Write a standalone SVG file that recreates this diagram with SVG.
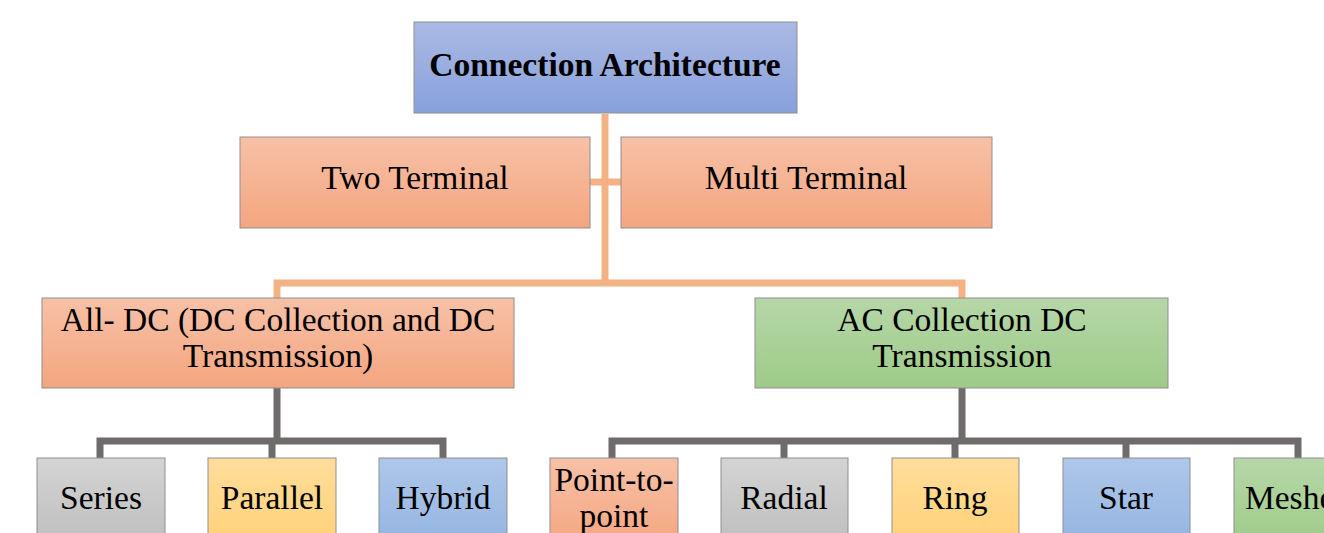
<svg xmlns="http://www.w3.org/2000/svg" width="1324" height="533" viewBox="0 0 1324 533">
  <defs>
    <linearGradient id="gBlueTop" x1="0" y1="0" x2="0" y2="1">
      <stop offset="0" stop-color="#aab9e4"/>
      <stop offset="1" stop-color="#88a1db"/>
    </linearGradient>
    <linearGradient id="gOrange" x1="0" y1="0" x2="0" y2="1">
      <stop offset="0" stop-color="#f7c1a6"/>
      <stop offset="1" stop-color="#f4a580"/>
    </linearGradient>
    <linearGradient id="gGreen" x1="0" y1="0" x2="0" y2="1">
      <stop offset="0" stop-color="#b6d7a8"/>
      <stop offset="1" stop-color="#9ecb88"/>
    </linearGradient>
    <linearGradient id="gGray" x1="0" y1="0" x2="0" y2="1">
      <stop offset="0" stop-color="#d4d4d4"/>
      <stop offset="1" stop-color="#bdbdbd"/>
    </linearGradient>
    <linearGradient id="gYellow" x1="0" y1="0" x2="0" y2="1">
      <stop offset="0" stop-color="#ffdd9a"/>
      <stop offset="1" stop-color="#ffd177"/>
    </linearGradient>
    <linearGradient id="gBlue" x1="0" y1="0" x2="0" y2="1">
      <stop offset="0" stop-color="#afc7e9"/>
      <stop offset="1" stop-color="#92b4e1"/>
    </linearGradient>
  </defs>
  <style>
    .box { stroke: #8f8f8f; stroke-width: 1; }
    .lbl { font-family: "Liberation Serif", "Times New Roman", serif; font-size: 33.5px; fill: #000; text-anchor: middle; }
    .bold { font-weight: bold; }
    .orange { stroke: #f4b183; stroke-width: 7; fill: none; }
    .gray { stroke: #6f6b6b; stroke-width: 7; fill: none; }
  </style>

  <!-- connectors -->
  <g id="connectors">
    <path class="orange" d="M605 114 V283 M277 298 V283 H962 V298 M590 182 H621"/>
    <path class="gray" d="M277 388 V441 M100 458 V441 H443 V458 M272 441 V458"/>
    <path class="gray" d="M962 388 V441 M612 458 V441 H1298 V458 M784 441 V458 M955 441 V458 M1126 441 V458"/>
  </g>

  <g id="root">
    <rect class="box" x="414" y="22" width="383" height="91" fill="url(#gBlueTop)"/>
    <text class="lbl bold" x="605" y="76">Connection Architecture</text>
  </g>

  <g id="two-terminal">
    <rect class="box" x="240" y="137" width="350" height="91" fill="url(#gOrange)"/>
    <text class="lbl" x="415" y="189">Two Terminal</text>
  </g>

  <g id="multi-terminal">
    <rect class="box" x="621" y="137" width="371" height="91" fill="url(#gOrange)"/>
    <text class="lbl" x="806" y="189">Multi Terminal</text>
  </g>

  <g id="all-dc">
    <rect class="box" x="42" y="298" width="472" height="90" fill="url(#gOrange)"/>
    <text class="lbl" x="278" y="331">All- DC (DC Collection and DC</text>
    <text class="lbl" x="278" y="367">Transmission)</text>
  </g>

  <g id="ac-dc">
    <rect class="box" x="755" y="298" width="413" height="90" fill="url(#gGreen)"/>
    <text class="lbl" x="962" y="331">AC Collection DC</text>
    <text class="lbl" x="962" y="367">Transmission</text>
  </g>

  <g id="series">
    <rect class="box" x="37" y="458" width="128" height="90" fill="url(#gGray)"/>
    <text class="lbl" x="101" y="509">Series</text>
  </g>

  <g id="parallel">
    <rect class="box" x="208" y="458" width="128" height="90" fill="url(#gYellow)"/>
    <text class="lbl" x="272" y="509">Parallel</text>
  </g>

  <g id="hybrid">
    <rect class="box" x="379" y="458" width="128" height="90" fill="url(#gBlue)"/>
    <text class="lbl" x="443" y="509">Hybrid</text>
  </g>

  <g id="point-to-point">
    <rect class="box" x="550" y="458" width="128" height="90" fill="url(#gOrange)"/>
    <text class="lbl" x="614" y="491">Point-to-</text>
    <text class="lbl" x="614" y="527">point</text>
  </g>

  <g id="radial">
    <rect class="box" x="721" y="458" width="127" height="90" fill="url(#gGray)"/>
    <text class="lbl" x="784" y="509">Radial</text>
  </g>

  <g id="ring">
    <rect class="box" x="892" y="458" width="127" height="90" fill="url(#gYellow)"/>
    <text class="lbl" x="955" y="509">Ring</text>
  </g>

  <g id="star">
    <rect class="box" x="1063" y="458" width="127" height="90" fill="url(#gBlue)"/>
    <text class="lbl" x="1126" y="509">Star</text>
  </g>

  <g id="meshed">
    <rect class="box" x="1234" y="458" width="128" height="90" fill="url(#gGreen)"/>
    <text class="lbl" x="1298" y="509">Meshed</text>
  </g>
</svg>
